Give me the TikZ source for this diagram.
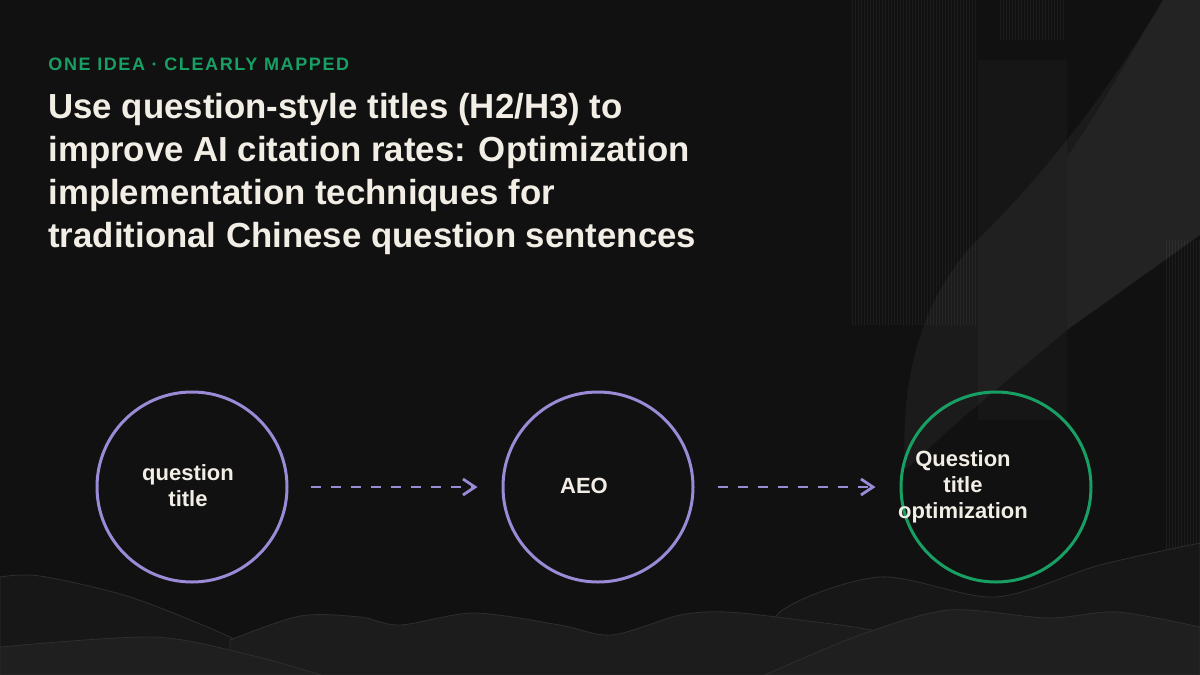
\documentclass[tikz,border=0pt]{standalone}
\usepackage{fontspec}
\setmainfont{Liberation Sans}
\usetikzlibrary{arrows.meta,positioning}
\definecolor{bgdark}{HTML}{111111}
\definecolor{lilac}{HTML}{9B8AD6}
\definecolor{mint}{HTML}{18A064}
\definecolor{cream}{HTML}{F2EEE6}

\begin{document}
\begin{tikzpicture}[x=0.5pt,y=-0.5pt,
  bubble/.style={circle,draw=#1,line width=1.5pt,minimum size=95pt,inner sep=0pt},
  bubbletext/.style={text=cream,font=\bfseries\fontsize{11}{13}\selectfont,align=center,anchor=base,inner sep=0pt},
  flow/.style={draw=lilac,line width=1.4pt,dash pattern=on 5pt off 5pt,-{Straight Barb[length=6pt,width=8pt]}},
  wave/.style={fill=#1,draw=white!18!black,line width=0.4pt},
  stripe/.style={draw=white,opacity=0.05,line width=0.5pt}]
\fill[bgdark] (0,0) rectangle (1200,675);
\useasboundingbox (0,0) rectangle (1200,675);

% backdrop on the right
\foreach \x in {852,855,...,975} \draw[stripe] (\x,0) -- (\x,325);
\foreach \x in {1000,1003,...,1065} \draw[stripe] (\x,0) -- (\x,40);
\foreach \x in {1166,1169,...,1199} \draw[stripe] (\x,240) -- (\x,560);
\fill[white,opacity=0.025] (978,60) rectangle (1067,420);
\fill[white,opacity=0.045] (1163,0) .. controls (1110,90) and (1040,180) .. (977,240)
  .. controls (920,300) and (900,380) .. (905,470) -- (960,420) -- (1067,330) -- (1200,235) -- (1200,0) -- cycle;
\fill[white,opacity=0.035] (1163,0) .. controls (1130,55) and (1100,110) .. (1067,157) -- (1067,330) -- (1200,235) -- (1200,0) -- cycle;

% waves
\filldraw[wave=white!9!black] plot[smooth] coordinates {(0,577) (40,576) (130,597) (230,637) (300,675)} -- (0,675) -- cycle;
\filldraw[wave=white!9!black] plot[smooth] coordinates {(760,675) (780,612) (880,577) (995,597) (1100,565) (1200,543)} -- (1200,675) -- cycle;
\filldraw[wave=white!11!black] plot[smooth] coordinates {(230,640) (300,616) (360,617) (400,625) (474,613) (560,625) (612,635) (680,615) (727,612) (800,620) (880,632) (960,660) (1000,675)} -- (230,675) -- cycle;
\filldraw[wave=white!12!black] plot[smooth] coordinates {(0,647) (153,637) (250,655) (321,675)} -- (0,675) -- cycle;
\filldraw[wave=white!12!black] plot[smooth] coordinates {(765,675) (860,635) (949,610) (1048,618) (1117,612) (1200,627)} -- (1200,675) -- cycle;

% texts
\node[anchor=base west,inner sep=0pt,text=mint,font=\bfseries\fontsize{9}{11}\selectfont\addfontfeature{LetterSpace=9}] (kicker) at (48,70) {ONE IDEA · CLEARLY MAPPED};
\node[anchor=base west,inner sep=0pt,text=cream,align=left,font=\bfseries\fontsize{17.4}{21.5}\selectfont] (headline) at (48,247)
  {Use question-style titles (H2/H3) to\\improve AI citation rates: Optimization\\implementation techniques for\\traditional Chinese question sentences};

% circles and flow
\node[bubble=lilac] (q) at (192,487) {};
\node[bubble=lilac] (aeo) at (598,487) {};
\node[bubble=mint] (opt) at (996,487) {};
\node[bubbletext] (qtext) at (188,506) {question\\title};
\node[bubbletext] (aeotext) at (584,493) {AEO};
\node[bubbletext] (opttext) at (963,518) {Question\\title\\optimization};
\draw[flow] ([xshift=11pt]q.east) -- ([xshift=-12pt]aeo.west);
\draw[flow] ([xshift=11.5pt]aeo.east) -- ([xshift=-12pt]opt.west);
\end{tikzpicture}
\end{document}
